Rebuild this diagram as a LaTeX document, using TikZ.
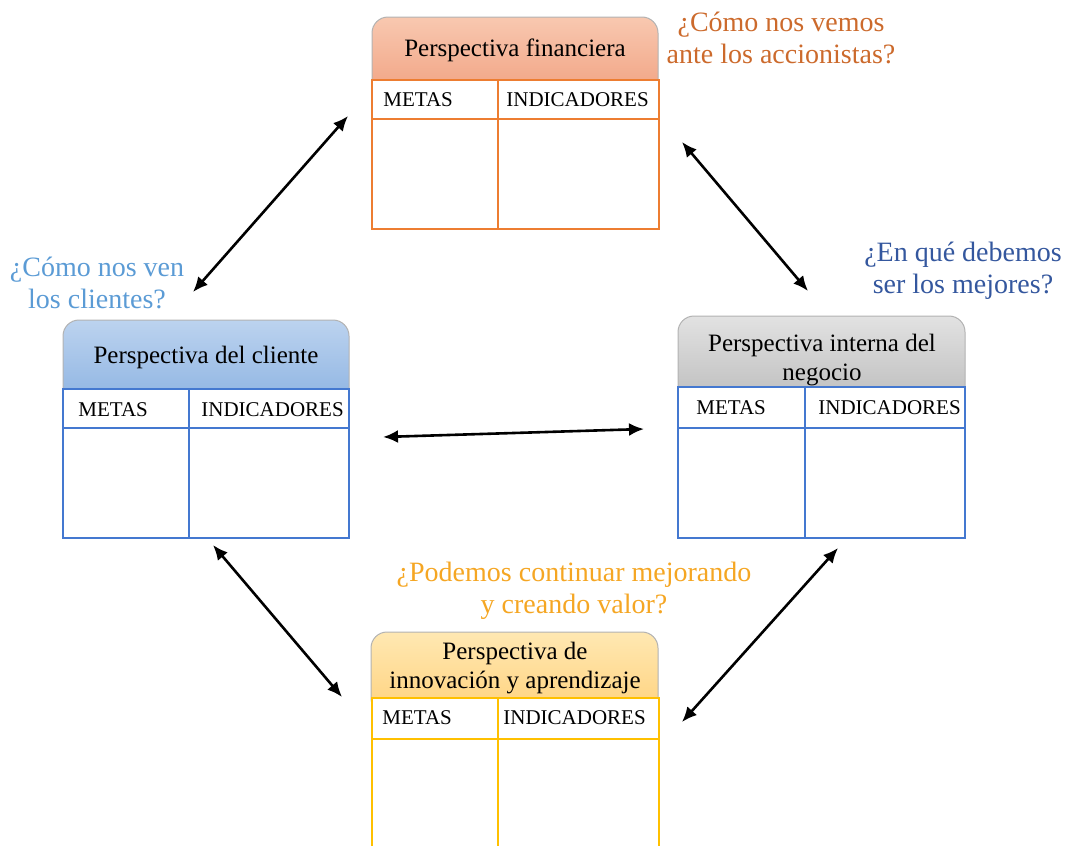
\documentclass[tikz,border=0pt]{standalone}
\usepackage{fontspec}
\setmainfont{Liberation Serif}
\usetikzlibrary{arrows.meta}
\definecolor{finA}{HTML}{F8C8B0}
\definecolor{finB}{HTML}{F1A282}
\definecolor{finline}{HTML}{ED7D31}
\definecolor{cliA}{HTML}{BCD3EF}
\definecolor{cliB}{HTML}{8DB3E2}
\definecolor{cliline}{HTML}{4478D0}
\definecolor{intA}{HTML}{E2E2E2}
\definecolor{intB}{HTML}{BDBDBD}
\definecolor{innA}{HTML}{FFE8B2}
\definecolor{innB}{HTML}{FFD27E}
\definecolor{innline}{HTML}{FFC000}
\definecolor{qfin}{HTML}{CC6A2C}
\definecolor{qcli}{HTML}{5B9BD5}
\definecolor{qint}{HTML}{34579E}
\definecolor{qinn}{HTML}{F5A623}

\begin{document}
\begin{tikzpicture}[x=0.5pt, y=-0.5pt, head/.style={draw=black!30, line width=0.5pt, rounded corners=8}, tab/.style={line width=0.8pt}, title/.style={font=\fontsize{12.5}{14.5}\selectfont, align=center}, cell/.style={anchor=west, inner sep=0pt, font=\fontsize{10.5}{12}\selectfont}, quest/.style={font=\fontsize{14}{16}\selectfont, align=center}, n/.style={{Latex[length=7.5pt,width=6.5pt]}-{Latex[length=7.5pt,width=6.5pt]}, line width=1.3pt}]
            \useasboundingbox (0,0) rectangle (1068,846);
            % perspectiva financiera
            \shade[head, top color=finA, bottom color=finB] (372,17) rectangle (658,96);
            \draw[tab, draw=finline, fill=white] (372,80) rectangle (659,229);
            \draw[tab, draw=finline] (372,119) -- (659,119) (498,80) -- (498,229);
            \node[title] (fin) at (515,50) {Perspectiva financiera};
            \node[cell] (fin-m) at (383,100) {METAS};
            \node[cell] (fin-i) at (506,100) {INDICADORES};
            % perspectiva del cliente
            \shade[head, top color=cliA, bottom color=cliB] (63,320) rectangle (349,405);
            \draw[tab, draw=cliline, fill=white] (63,389) rectangle (349,538);
            \draw[tab, draw=cliline] (63,428) -- (349,428) (189,389) -- (189,538);
            \node[title] (cli) at (206,357) {Perspectiva del cliente};
            \node[cell] (cli-m) at (78,410) {METAS};
            \node[cell] (cli-i) at (201,410) {INDICADORES};
            % perspectiva interna
            \shade[head, top color=intA, bottom color=intB] (678,316) rectangle (965,403);
            \draw[tab, draw=cliline, fill=white] (678,387) rectangle (965,538);
            \draw[tab, draw=cliline] (678,428) -- (965,428) (805,387) -- (805,538);
            \node[title] (int) at (822,360) {Perspectiva interna del\\negocio};
            \node[cell] (int-m) at (696,408) {METAS};
            \node[cell] (int-i) at (818,408) {INDICADORES};
            % perspectiva de innovacion
            \shade[head, top color=innA, bottom color=innB] (371,632) rectangle (658,714);
            \draw[tab, draw=innline, fill=white] (372,846) -- (372,698) -- (659,698) -- (659,846);
            \draw[tab, draw=innline] (372,739) -- (659,739) (498,698) -- (498,846);
            \node[title] (inn) at (515,668) {Perspectiva de\\innovación y aprendizaje};
            \node[cell] (inn-m) at (382,718) {METAS};
            \node[cell] (inn-i) at (503,718) {INDICADORES};
            % preguntas
            \node[quest, text=qfin] (q-fin) at (781,38) {¿Cómo nos vemos\\ante los accionistas?};
            \node[quest, text=qcli] (q-cli) at (97,283) {¿Cómo nos ven\\los clientes?};
            \node[quest, text=qint] (q-int) at (963,271) {¿En qué debemos\\ser los mejores?};
            \node[quest, text=qinn] (q-inn) at (574,591) {¿Podemos continuar mejorando\\y creando valor?};
            % edges
            \coordinate (fin-w) at (348,116);
            \coordinate (cli-n) at (193,292);
            \coordinate (fin-e) at (682,142);
            \coordinate (int-n) at (808,291);
            \coordinate (cli-e) at (383,437);
            \coordinate (int-w) at (644,429);
            \coordinate (cli-s) at (213,545);
            \coordinate (inn-w) at (342,697);
            \coordinate (int-s) at (838,548);
            \coordinate (inn-e) at (682,722);
            \draw [n] (fin-w) -- (cli-n);
            \draw [n] (fin-e) -- (int-n);
            \draw [n] (cli-e) -- (int-w);
            \draw [n] (cli-s) -- (inn-w);
            \draw [n] (int-s) -- (inn-e);
        \end{tikzpicture}
\end{document}
